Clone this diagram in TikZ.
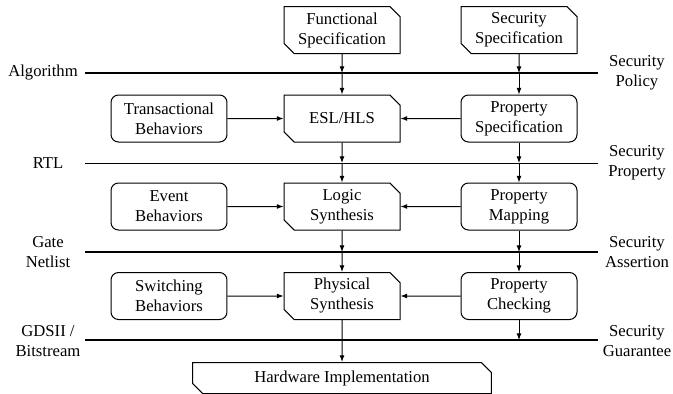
\documentclass[tikz,border=0pt]{standalone}
\usepackage{fontspec}
\setmainfont{Liberation Serif}
\usetikzlibrary{arrows.meta, shapes.misc}

\begin{document}
\begin{tikzpicture}[x=0.6pt, y=-0.6pt,
    flowbox/.style={draw, line width=0.6pt, chamfered rectangle,
        chamfered rectangle corners={north east, south west},
        chamfered rectangle xsep=3pt, minimum width=69.6pt,
        minimum height=28.2pt, align=center, inner sep=0pt},
    roundbox/.style={draw, line width=0.6pt, rounded corners=4.5pt,
        minimum width=69.6pt, minimum height=28.2pt, align=center},
    level/.style={line width=1.2pt},
    thinlevel/.style={line width=0.6pt},
    arr/.style={-{Latex[length=4pt,width=3pt]}, line width=0.6pt}]
    \useasboundingbox (0,0) rectangle (673,394);

    % boxes
    \node[flowbox] (func) at (342,30) {Functional\\Specification};
    \node[flowbox] (secspec) at (519,30) {Security\\Specification};
    \node[roundbox] (trans) at (169,118.5) {Transactional\\Behaviors};
    \node[flowbox] (esl) at (342,118.5) {ESL/HLS};
    \node[roundbox] (propspec) at (519,118.5) {Property\\Specification};
    \node[roundbox] (event) at (169,206.5) {Event\\Behaviors};
    \node[flowbox] (logic) at (342,206.5) {Logic\\Synthesis};
    \node[roundbox] (propmap) at (519,206.5) {Property\\Mapping};
    \node[roundbox] (switch) at (169,296) {Switching\\Behaviors};
    \node[flowbox] (phys) at (342,296) {Physical\\Synthesis};
    \node[roundbox] (propcheck) at (519,296) {Property\\Checking};
    \node[flowbox, minimum width=179.4pt, minimum height=18.6pt] (hw) at (342,378) {Hardware Implementation};

    % abstraction levels
    \coordinate (algL) at (85,73);
    \coordinate (algR) at (598,73);
    \coordinate (rtlL) at (85,163);
    \coordinate (rtlR) at (598,163);
    \coordinate (gateL) at (85,252);
    \coordinate (gateR) at (598,252);
    \coordinate (gdsL) at (85,340);
    \coordinate (gdsR) at (598,340);
    \draw[level] (algL) -- (algR);
    \draw[thinlevel] (rtlL) -- (rtlR);
    \draw[level] (gateL) -- (gateR);
    \draw[level] (gdsL) -- (gdsR);

    \node (alg) at (43,73) {Algorithm};
    \node (rtl) at (48,163) {RTL};
    \node[align=center] (gate) at (48,252) {Gate\\Netlist};
    \node[align=center] (gds) at (48,341) {GDSII /\\Bitstream};
    \node[align=center] (policy) at (637,73) {Security\\Policy};
    \node[align=center] (property) at (637,163) {Security\\Property};
    \node[align=center] (assertion) at (637,252) {Security\\Assertion};
    \node[align=center] (guarantee) at (637,341) {Security\\Guarantee};

    % design flow
    \draw[arr] (func) -- (func |- algL);
    \draw[arr] (func |- algL) -- (esl);
    \draw[arr] (esl) -- (esl |- rtlL);
    \draw[arr] (esl |- rtlL) -- (logic);
    \draw[arr] (logic) -- (logic |- gateL);
    \draw[arr] (logic |- gateL) -- (phys);
    \draw[arr] (phys) -- (hw);

    % security flow
    \draw[arr] (secspec) -- (secspec |- algL);
    \draw[arr] (secspec |- algL) -- (propspec);
    \draw[arr] (propspec) -- (propspec |- rtlL);
    \draw[arr] (propspec |- rtlL) -- (propmap);
    \draw[arr] (propmap) -- (propmap |- gateL);
    \draw[arr] (propmap |- gateL) -- (propcheck);
    \draw[arr] (propcheck) -- (propcheck |- gdsL);

    % side inputs
    \draw[arr] (trans) -- (esl);
    \draw[arr] (propspec) -- (esl);
    \draw[arr] (event) -- (logic);
    \draw[arr] (propmap) -- (logic);
    \draw[arr] (switch) -- (phys);
    \draw[arr] (propcheck) -- (phys);
\end{tikzpicture}
\end{document}
